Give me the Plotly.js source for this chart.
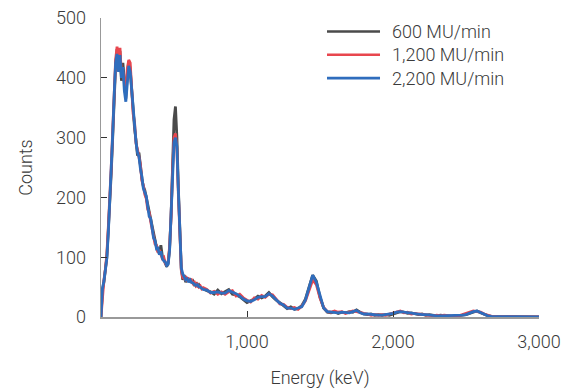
<!DOCTYPE html>
<html>
<head>
<meta charset="utf-8">
<script src="https://cdn.plot.ly/plotly-3.0.1.min.js"></script>
<style>html,body{margin:0;padding:0;background:#fff;}#chart{width:574px;height:392px;}</style>
</head>
<body>
<div id="chart"></div>
<script>
// Energy bins (keV): 0-700 every 10 keV, 725-3000 every 25 keV
const energyFine = [];
for (let e = 0; e <= 700; e += 10) energyFine.push(e);
const energyCoarse = [];
for (let e = 725; e <= 3000; e += 25) energyCoarse.push(e);
const energy = energyFine.concat(energyCoarse);

const seriesNames = ["600 MU/min", "1,200 MU/min", "2,200 MU/min"];

const counts600 = [
  0, 45, 58, 75, 100, 145, 185, 240, 300, 365,
  420, 448, 415, 445, 395, 425, 385, 365, 405, 428,
  415, 375, 345, 315, 295, 270, 275, 250, 232, 218,
  212, 200, 188, 172, 162, 150, 136, 126, 117, 110,
  106, 120, 102, 96, 88, 84, 90, 115, 170, 255,
  330, 352, 300, 215, 130, 80, 62, 70, 58, 66,
  60, 64, 57, 60, 54, 56, 52, 54, 50, 49,
  47,
  44, 42, 38, 45,
  39, 43, 46, 38, 37, 34, 29, 24,
  27, 30, 35, 32, 35, 41, 34, 28,
  24, 19, 14, 17, 13, 14, 19, 30,
  52, 70, 60, 33, 15, 8, 7, 9,
  6, 8, 7, 9, 8, 12, 8, 5,
  4, 5, 3, 4, 3, 4, 3, 5,
  7, 9, 8, 6, 7, 5, 4, 5,
  3, 4, 3, 2, 3, 2, 2, 1,
  2, 2, 3, 4, 6, 9, 10, 7,
  4, 2, 1, 1, 1, 0, 1, 0,
  0, 1, 0, 0, 0, 0, 0, 0
];

const counts1200 = [
  0, 40, 62, 80, 105, 150, 195, 250, 310, 375,
  430, 452, 425, 450, 405, 410, 395, 375, 415, 430,
  425, 385, 340, 325, 290, 280, 265, 255, 228, 220,
  205, 198, 180, 175, 160, 148, 140, 122, 120, 108,
  112, 105, 98, 100, 90, 86, 92, 118, 168, 245,
  300, 307, 280, 205, 125, 78, 66, 64, 68, 62,
  64, 60, 62, 56, 58, 52, 55, 50, 52, 47,
  49,
  46, 40, 43, 38,
  42, 38, 42, 44, 35, 38, 32, 28,
  25, 32, 30, 36, 33, 38, 37, 30,
  22, 21, 16, 14, 16, 13, 18, 27,
  46, 62, 54, 32, 16, 9, 8, 10,
  8, 9, 6, 8, 10, 9, 7, 6,
  5, 3, 4, 3, 4, 3, 5, 7,
  9, 10, 7, 8, 5, 6, 5, 4,
  4, 3, 2, 3, 2, 3, 2, 2,
  1, 2, 4, 5, 8, 10, 9, 8,
  5, 3, 1, 1, 0, 1, 0, 1,
  0, 0, 0, 0, 0, 0, 0, 0
];

const counts2200 = [
  0, 48, 60, 78, 98, 140, 190, 245, 305, 370,
  425, 440, 410, 438, 400, 418, 378, 360, 398, 420,
  410, 378, 342, 318, 292, 275, 268, 248, 235, 215,
  208, 202, 185, 168, 165, 146, 132, 128, 114, 115,
  104, 110, 98, 94, 92, 86, 88, 112, 165, 240,
  292, 300, 285, 210, 128, 82, 72, 66, 62, 64,
  58, 62, 58, 57, 55, 53, 54, 51, 50, 48,
  46,
  45, 41, 41, 42,
  40, 40, 44, 42, 39, 35, 30, 27,
  26, 29, 33, 34, 34, 39, 35, 29,
  23, 20, 15, 15, 13, 15, 17, 28,
  50, 70, 58, 34, 15, 9, 8, 8,
  7, 8, 8, 7, 9, 11, 7, 5,
  5, 4, 4, 3, 3, 4, 4, 6,
  8, 9, 8, 7, 6, 6, 5, 4,
  4, 3, 3, 2, 2, 2, 2, 2,
  2, 2, 3, 4, 7, 9, 10, 7,
  4, 2, 1, 1, 1, 0, 0, 0,
  0, 0, 0, 0, 0, 0, 0, 0
];

const xTickVals = [1000, 2000, 3000];
const xTickText = ["1,000", "2,000", "3,000"];
const yTickVals = [0, 100, 200, 300, 400, 500];

const colors = ["#4a4a4a", "#e8464e", "#2f6dbd"];
const allCounts = [counts600, counts1200, counts2200];

const FONT = "Roboto, 'Liberation Sans', Arial, sans-serif";
const TXT = { family: FONT, size: 18, color: "#3a3a3a", weight: 300 };

const traces = allCounts.map((c, i) => ({
  x: energy,
  y: c,
  type: "scatter",
  mode: "lines",
  name: seriesNames[i],
  showlegend: false,
  line: { color: colors[i], width: 2.8 }
}));

// Hand-drawn legend (longer sample lines than Plotly's default legend)
const legendRowsY = [0.955, 0.877, 0.799];
const shapes = seriesNames.map((n, i) => ({
  type: "line", xref: "paper", yref: "paper",
  x0: 0.516, x1: 0.637, y0: legendRowsY[i], y1: legendRowsY[i],
  line: { color: colors[i], width: 2.6 }
}));
const annotations = seriesNames.map((n, i) => ({
  text: n, xref: "paper", yref: "paper",
  x: 0.66, y: legendRowsY[i], xanchor: "left", yanchor: "middle",
  showarrow: false, font: TXT
}));

const layout = {
  width: 574,
  height: 392,
  margin: { l: 101, r: 35, t: 18, b: 75 },
  paper_bgcolor: "#fff",
  plot_bgcolor: "#fff",
  font: TXT,
  showlegend: false,
  shapes: shapes,
  annotations: annotations,
  xaxis: {
    range: [0, 3000],
    tickvals: xTickVals,
    ticktext: xTickText,
    ticks: "inside",
    ticklen: 6,
    tickcolor: "#333",
    tickwidth: 1,
    showline: true,
    linecolor: "#999",
    linewidth: 1.5,
    showgrid: false,
    zeroline: false,
    ticklabelstandoff: 8,
    tickfont: TXT,
    title: { text: "Energy (keV)", font: TXT, standoff: 20 }
  },
  yaxis: {
    range: [0, 500],
    tickvals: yTickVals,
    ticks: "inside",
    ticklen: 6,
    tickcolor: "#333",
    tickwidth: 1,
    showline: true,
    linecolor: "#999",
    linewidth: 1.5,
    showgrid: false,
    zeroline: false,
    ticklabelstandoff: 10,
    tickfont: TXT,
    title: { text: "Counts", font: TXT, standoff: 18 }
  }
};

Plotly.newPlot("chart", traces, layout, { displayModeBar: false, staticPlot: true });
</script>
</body>
</html>
